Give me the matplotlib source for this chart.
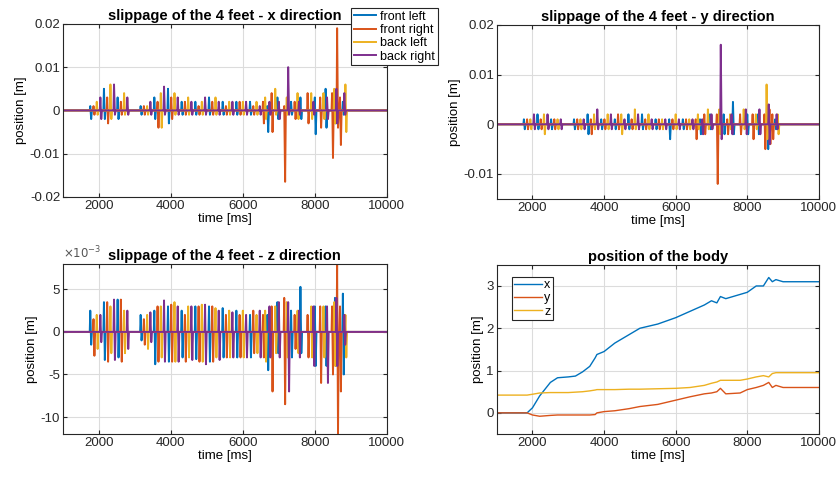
import numpy as np
import matplotlib
matplotlib.use("Agg")
import matplotlib.pyplot as plt
from matplotlib.ticker import FuncFormatter

# MATLAB-like look
plt.rcParams.update({
    "font.family": ["Liberation Sans", "DejaVu Sans"],
    "font.size": 9.5,
    "axes.unicode_minus": False,
    "axes.edgecolor": "#262626",
    "axes.linewidth": 0.8,
    "xtick.direction": "in",
    "ytick.direction": "in",
    "xtick.color": "#262626",
    "ytick.color": "#262626",
    "xtick.major.size": 3,
    "ytick.major.size": 3,
    "grid.color": "#dcdcdc",
    "grid.linewidth": 0.8,
})

colors = ["#0072BD", "#D95319", "#EDB120", "#7E2F8E"]
feet = ["front left", "front right", "back left", "back right"]

# touchdown times of each foot [ms]
t_fl = [1760, 2140, 2520, 3160, 3540, 3920, 4300, 4680, 5060, 5440, 5820, 6200, 6680, 6960, 7340, 7600, 8000, 8300, 8560, 8780]
t_fr = [1850, 2230, 2610, 3250, 3630, 4010, 4390, 4770, 5150, 5530, 5910, 6290, 6560, 6800, 7150, 7440, 7800, 8150, 8480, 8620, 8700]
t_bl = [1940, 2320, 2700, 3340, 3720, 4100, 4480, 4860, 5240, 5620, 6000, 6380, 6620, 6900, 7220, 7520, 7900, 8240, 8540, 8850]
t_br = [2040, 2420, 2790, 3430, 3810, 4190, 4570, 4950, 5330, 5710, 6090, 6470, 6740, 7000, 7260, 7560, 7960, 8340, 8600, 8820]

# x slippage: peak up / peak down per touchdown [m]
x_fl_up = [0.001, 0.005, 0.003, 0.001, 0.003, 0.005, 0.002, 0.002, 0.003, 0.002, 0.002, 0.002, 0.001, 0.003, 0.002, 0.003, 0.003, 0.005, 0.004, 0.002]
x_fl_dn = [-0.002, -0.002, -0.002, -0.001, -0.002, -0.003, -0.001, -0.001, -0.001, -0.001, -0.001, -0.001, -0.005, -0.002, -0.001, -0.002, -0.0055, -0.004, -0.003, -0.001]
x_fr_up = [0.001, 0.003, 0.002, 0.001, 0.002, 0.003, 0.002, 0.001, 0.002, 0.001, 0.002, 0.001, 0.002, 0.004, 0.001, 0.002, 0.004, 0.003, 0.004, 0.019, 0.003]
x_fr_dn = [-0.001, -0.003, -0.001, -0.001, -0.004, -0.002, -0.001, -0.001, -0.001, -0.001, -0.001, -0.001, -0.003, -0.005, -0.0165, -0.002, -0.003, -0.004, -0.011, -0.004, -0.008]
x_bl_up = [0.002, 0.006, 0.004, 0.001, 0.004, 0.004, 0.003, 0.002, 0.003, 0.002, 0.002, 0.002, 0.003, 0.005, 0.003, 0.004, 0.004, 0.004, 0.005, 0.006]
x_bl_dn = [-0.001, -0.002, -0.001, -0.001, -0.004, -0.001, -0.001, -0.001, -0.001, -0.001, -0.001, -0.001, -0.002, -0.001, -0.001, -0.002, -0.002, -0.002, -0.003, -0.005]
x_br_up = [0.003, 0.006, 0.003, 0.002, 0.0055, 0.003, 0.002, 0.003, 0.002, 0.002, 0.002, 0.001, 0.002, 0.002, 0.010, 0.002, 0.002, 0.003, 0.005, 0.004]
x_br_dn = [-0.002, -0.001, -0.001, -0.001, -0.001, -0.001, -0.001, -0.001, -0.001, -0.001, -0.001, -0.001, -0.001, -0.002, -0.001, -0.001, -0.001, -0.002, -0.003, -0.001]

# y slippage [m]
y_fl_up = [0.001, 0.002, 0.001, 0.001, 0.002, 0.001, 0.001, 0.002, 0.002, 0.001, 0.001, 0.001, 0.001, 0.002, 0.002, 0.0045, 0.002, 0.002, 0.004, 0.001]
y_fl_dn = [-0.001, -0.001, -0.001, -0.001, -0.002, -0.001, -0.001, -0.001, -0.001, -0.001, -0.003, -0.001, -0.002, -0.001, -0.002, -0.002, -0.002, -0.002, -0.005, -0.001]
y_fr_up = [0.001, 0.001, 0.001, 0.001, 0.001, 0.001, 0.002, 0.001, 0.001, 0.001, 0.001, 0.001, 0.001, 0.002, 0.002, 0.001, 0.002, 0.002, 0.002, 0.003, 0.002]
y_fr_dn = [-0.001, -0.001, -0.001, -0.001, -0.002, -0.001, -0.001, -0.001, -0.001, -0.001, -0.001, -0.001, -0.003, -0.002, -0.012, -0.002, -0.002, -0.003, -0.005, -0.004, -0.003]
y_bl_up = [0.001, 0.002, 0.001, 0.001, 0.002, 0.002, 0.002, 0.003, 0.002, 0.001, 0.002, 0.001, 0.002, 0.003, 0.003, 0.002, 0.003, 0.002, 0.008, 0.002]
y_bl_dn = [-0.001, -0.002, -0.001, -0.001, -0.001, -0.001, -0.002, -0.001, -0.001, -0.001, -0.001, -0.001, -0.001, -0.001, -0.002, -0.001, -0.001, -0.001, -0.003, -0.002]
y_br_up = [0.002, 0.002, 0.001, 0.001, 0.003, 0.002, 0.001, 0.002, 0.001, 0.001, 0.001, 0.001, 0.001, 0.002, 0.016, 0.002, 0.003, 0.003, 0.004, 0.002]
y_br_dn = [-0.001, -0.001, -0.001, -0.001, -0.001, -0.001, -0.001, -0.001, -0.001, -0.001, -0.001, -0.001, -0.002, -0.001, -0.003, -0.002, -0.002, -0.002, -0.004, -0.001]

# z slippage [mm]
z_fl_up = [2.5, 3.5, 3.8, 2.0, 2.5, 3.0, 2.5, 3.0, 3.0, 2.8, 2.5, 2.0, 2.0, 3.5, 2.5, 5.3, 3.0, 3.0, 4.0, 4.5]
z_fl_dn = [-1.5, -3.3, -3.0, -1.0, -3.8, -3.5, -3.0, -3.2, -3.5, -3.0, -3.0, -3.0, -4.5, -2.5, -3.0, -2.5, -4.0, -4.0, -4.0, -5.0]
z_fr_up = [1.5, 3.5, 3.8, 1.5, 3.0, 3.2, 2.0, 3.0, 3.0, 2.0, 2.0, 2.5, 2.0, 3.0, 4.0, 2.0, 2.0, 3.0, 3.0, 8.0, 3.0]
z_fr_dn = [-2.8, -3.5, -3.5, -1.5, -3.5, -3.5, -3.5, -3.5, -3.5, -3.0, -3.0, -2.5, -3.0, -7.0, -8.5, -2.0, -3.0, -6.0, -5.0, -12.0, -7.0]
z_bl_up = [2.0, 3.0, 2.5, 2.0, 3.0, 3.5, 3.0, 3.2, 2.8, 2.5, 2.5, 2.0, 2.5, 3.0, 3.5, 2.5, 3.0, 3.0, 3.5, 2.0]
z_bl_dn = [-2.0, -2.5, -2.5, -2.0, -3.0, -3.5, -3.0, -3.5, -3.0, -3.0, -3.0, -2.5, -3.5, -2.5, -3.0, -2.5, -3.0, -3.0, -4.0, -3.0]
z_br_up = [2.0, 3.8, 2.5, 2.3, 3.7, 3.0, 3.0, 3.2, 2.5, 2.3, 2.0, 2.5, 3.0, 3.5, 3.5, 2.5, 3.0, 3.0, 4.0, 2.0]
z_br_dn = [-1.2, -3.3, -2.0, -1.2, -3.5, -3.5, -3.3, -3.8, -3.3, -3.0, -3.0, -3.0, -3.0, -3.0, -7.0, -3.0, -4.0, -6.0, -4.0, -1.5]

# body position
body_t = [1000, 1850, 2000, 2200, 2500, 2700, 3000, 3200, 3400, 3600, 3750, 3800, 4000, 4300, 4700, 5000,
          5500, 6000, 6400, 6800, 7000, 7150, 7250, 7400, 7800, 8000, 8250, 8450, 8600, 8700, 8800, 9000, 10000]
body_x = [0.0, 0.0, 0.12, 0.4, 0.72, 0.83, 0.85, 0.87, 0.97, 1.1, 1.3, 1.38, 1.45, 1.65, 1.85, 2.0,
          2.1, 2.25, 2.4, 2.55, 2.65, 2.6, 2.75, 2.7, 2.8, 2.85, 3.0, 3.0, 3.2, 3.1, 3.15, 3.1, 3.1]
body_y = [0.0, 0.0, -0.05, -0.08, -0.06, -0.05, -0.05, -0.05, -0.05, -0.05, -0.04, 0.0, 0.03, 0.05, 0.1, 0.15,
          0.2, 0.3, 0.38, 0.45, 0.47, 0.5, 0.58, 0.45, 0.47, 0.55, 0.6, 0.65, 0.72, 0.6, 0.65, 0.6, 0.6]
body_z = [0.42, 0.42, 0.44, 0.47, 0.48, 0.48, 0.48, 0.49, 0.5, 0.52, 0.54, 0.55, 0.55, 0.55, 0.56, 0.56,
          0.57, 0.58, 0.6, 0.65, 0.7, 0.73, 0.77, 0.77, 0.77, 0.8, 0.85, 0.88, 0.85, 0.93, 0.95, 0.95, 0.95]

times = [t_fl, t_fr, t_bl, t_br]
x_slip = [(x_fl_up, x_fl_dn), (x_fr_up, x_fr_dn), (x_bl_up, x_bl_dn), (x_br_up, x_br_dn)]
y_slip = [(y_fl_up, y_fl_dn), (y_fr_up, y_fr_dn), (y_bl_up, y_bl_dn), (y_br_up, y_br_dn)]
z_slip = [(np.array(z_fl_up) * 1e-3, np.array(z_fl_dn) * 1e-3), (np.array(z_fr_up) * 1e-3, np.array(z_fr_dn) * 1e-3),
          (np.array(z_bl_up) * 1e-3, np.array(z_bl_dn) * 1e-3), (np.array(z_br_up) * 1e-3, np.array(z_br_dn) * 1e-3)]


def spike_trace(t_events, ups, dns):
    # each touchdown: short up then down pulse, zero in between
    tt, vv = [1000], [0.0]
    for t, u, d in zip(t_events, ups, dns):
        tt += [t - 15, t, t + 25, t + 45]
        vv += [0.0, u, d, 0.0]
    tt.append(10000)
    vv.append(0.0)
    return np.array(tt), np.array(vv)


fig = plt.figure(figsize=(8.39, 4.78), dpi=100)
ax1 = fig.add_axes([0.075, 0.588, 0.386, 0.362])
ax2 = fig.add_axes([0.592, 0.584, 0.384, 0.364])
ax3 = fig.add_axes([0.075, 0.092, 0.386, 0.356])
ax4 = fig.add_axes([0.592, 0.092, 0.384, 0.354])

for ax, slip in [(ax1, x_slip), (ax2, y_slip), (ax3, z_slip)]:
    for i in range(4):
        tt, vv = spike_trace(times[i], slip[i][0], slip[i][1])
        ax.plot(tt, vv, color=colors[i], lw=1.4, label=feet[i])

plain = FuncFormatter(lambda v, p: f"{v:g}")

ax1.set_ylim(-0.02, 0.02)
ax1.set_yticks([-0.02, -0.01, 0, 0.01, 0.02])
ax1.yaxis.set_major_formatter(plain)
ax1.set_title("slippage of the 4 feet - x direction", fontweight="bold", fontsize=10.5, pad=3)
leg = ax1.legend(loc="upper right", bbox_to_anchor=(1.157, 1.09), fontsize=9, frameon=True,
                 fancybox=False, borderpad=0.2, labelspacing=0.1, handlelength=1.8,
                 handletextpad=0.3, borderaxespad=0)
leg.get_frame().set_edgecolor("#262626")
leg.get_frame().set_linewidth(0.8)
leg.get_frame().set_alpha(1)

ax2.set_ylim(-0.015, 0.02)
ax2.set_yticks([-0.01, 0, 0.01, 0.02])
ax2.yaxis.set_major_formatter(plain)
ax2.set_title("slippage of the 4 feet - y direction", fontweight="bold", fontsize=10.5, pad=3)

ax3.set_ylim(-0.012, 0.008)
ax3.set_yticks([-0.01, -0.005, 0, 0.005])
ax3.yaxis.set_major_formatter(FuncFormatter(lambda v, p: f"{v * 1e3:g}"))
ax3.text(0.0, 1.015, r"$\times10^{-3}$", transform=ax3.transAxes, fontsize=8.5, color="#555555",
         ha="left", va="bottom")
ax3.set_title("slippage of the 4 feet - z direction", fontweight="bold", fontsize=10.5, pad=3)

ax4.plot(body_t, body_x, color=colors[0], lw=1.0, label="x")
ax4.plot(body_t, body_y, color=colors[1], lw=1.0, label="y")
ax4.plot(body_t, body_z, color=colors[2], lw=1.0, label="z")
ax4.set_ylim(-0.5, 3.5)
ax4.set_yticks([0, 1, 2, 3])
ax4.set_title("position of the body", fontweight="bold", fontsize=10.5, pad=3)
leg4 = ax4.legend(loc="upper left", bbox_to_anchor=(0.047, 0.93), fontsize=9, frameon=True,
                  fancybox=False, borderpad=0.2, labelspacing=0.1, handlelength=2.2,
                  handletextpad=0.2, borderaxespad=0)
leg4.get_frame().set_edgecolor("#262626")
leg4.get_frame().set_linewidth(0.8)
leg4.get_frame().set_alpha(1)

for ax in [ax1, ax2, ax3, ax4]:
    ax.set_xlim(1000, 10000)
    ax.set_xticks([2000, 4000, 6000, 8000, 10000])
    ax.grid(True)
    ax.set_axisbelow(True)
    ax.tick_params(top=True, right=True, labelsize=9.5, pad=2)
    ax.set_xlabel("time [ms]", labelpad=1)
    ax.set_ylabel("position [m]", labelpad=2)

fig.savefig("out.png", dpi=100)
